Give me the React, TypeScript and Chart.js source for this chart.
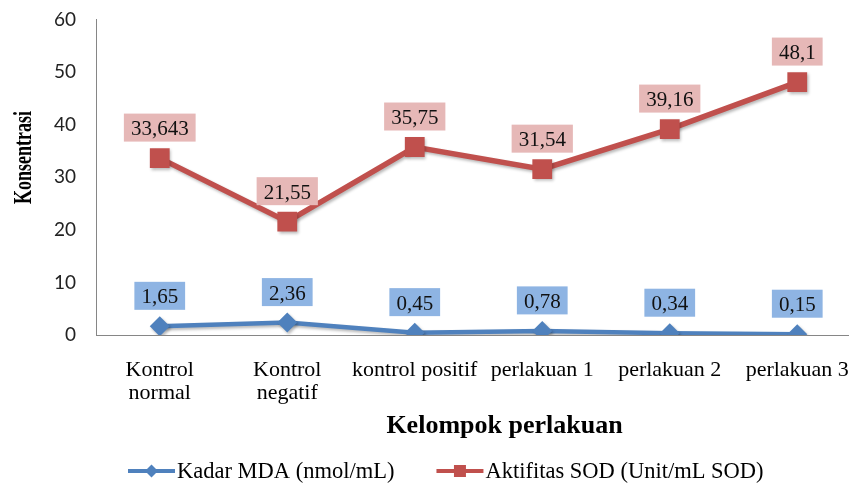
import React, { useEffect, useRef } from "react";
import { Chart, registerables } from "chart.js";

Chart.register(...registerables);

const categories: (string | string[])[] = [
  ["Kontrol", "normal"],
  ["Kontrol", "negatif"],
  "kontrol positif",
  "perlakuan 1",
  "perlakuan 2",
  "perlakuan 3",
];
const mdaValues = [1.65, 2.36, 0.45, 0.78, 0.34, 0.15];
const sodValues = [33.643, 21.55, 35.75, 31.54, 39.16, 48.1];
const yMin = 0;
const yMax = 60;
const yStep = 10;
const seriesNames = ["Kadar MDA (nmol/mL)", "Aktifitas SOD (Unit/mL SOD)"];
const yTitle = "Konsentrasi";
const xTitle = "Kelompok perlakuan";

const BLUE = "#4F81BD";
const RED = "#C0504D";
const BLUE_BOX = "#8EB4E3";
const RED_BOX = "#E6B8B7";
const SERIF = '"Liberation Serif", "Times New Roman", serif';

const boxColors = [BLUE_BOX, RED_BOX];

const CANVAS_W = 875;
const CANVAS_H = 484;

const shadowPlugin = {
  id: "shadowPlugin",
  beforeDatasetsDraw(chart: any) {
    const ctx = chart.ctx;
    ctx.save();
    ctx.shadowColor = "rgba(0,0,0,0.28)";
    ctx.shadowBlur = 3;
    ctx.shadowOffsetX = 1.5;
    ctx.shadowOffsetY = 2;
  },
  afterDatasetsDraw(chart: any) {
    chart.ctx.restore();
  },
};

const valueLabelPlugin = {
  id: "valueLabelPlugin",
  afterDatasetsDraw(chart: any) {
    const ctx = chart.ctx;
    ctx.save();
    ctx.font = `21px ${SERIF}`;
    ctx.textAlign = "center";
    ctx.textBaseline = "alphabetic";
    chart.data.datasets.forEach((ds: any, i: number) => {
      const meta = chart.getDatasetMeta(i);
      meta.data.forEach((pt: any, j: number) => {
        const text = String(ds.data[j]).replace(".", ",");
        const w = ctx.measureText(text).width + 14;
        const h = 28;
        const cy = pt.y - 30.5;
        ctx.fillStyle = boxColors[i];
        ctx.fillRect(pt.x - w / 2, cy - h / 2, w, h);
        ctx.fillStyle = "#111";
        ctx.fillText(text, pt.x, cy + 7.5);
      });
    });
    ctx.restore();
  },
};

const titlesAndLegendPlugin = {
  id: "titlesAndLegendPlugin",
  afterDraw(chart: any) {
    const ctx = chart.ctx;
    const area = chart.chartArea;
    ctx.save();
    // y title
    ctx.fillStyle = "#000";
    ctx.font = `bold 18px ${SERIF}`;
    ctx.textAlign = "center";
    ctx.textBaseline = "middle";
    ctx.translate(24, area.top + 138);
    ctx.rotate(-Math.PI / 2);
    ctx.scale(1, 1.45);
    ctx.fillText(yTitle, 0, 0);
    ctx.restore();

    // x title
    ctx.save();
    ctx.fillStyle = "#000";
    ctx.font = `bold 26px ${SERIF}`;
    ctx.textAlign = "center";
    ctx.textBaseline = "alphabetic";
    ctx.fillText(xTitle, (area.left + area.right) / 2 + 26, area.bottom + 98);
    ctx.restore();

    // legend
    ctx.save();
    ctx.font = `22.5px ${SERIF}`;
    ctx.textBaseline = "alphabetic";
    ctx.textAlign = "left";
    const lineY = area.bottom + 136;
    let x = 128;
    chart.data.datasets.forEach((ds: any) => {
      const color = ds.borderColor;
      ctx.strokeStyle = color;
      ctx.fillStyle = color;
      ctx.lineWidth = 4;
      ctx.beginPath();
      ctx.moveTo(x, lineY);
      ctx.lineTo(x + 47, lineY);
      ctx.stroke();
      const mx = x + 23.5;
      ctx.beginPath();
      if (ds.pointStyle === "rectRot") {
        const r = 6.5;
        ctx.moveTo(mx - r, lineY);
        ctx.lineTo(mx, lineY - r);
        ctx.lineTo(mx + r, lineY);
        ctx.lineTo(mx, lineY + r);
        ctx.closePath();
      } else {
        ctx.rect(mx - 6, lineY - 6, 12, 12);
      }
      ctx.fill();
      ctx.fillStyle = "#000";
      const tx = x + 49;
      ctx.fillText(ds.label, tx, lineY + 7);
      x = tx + ctx.measureText(ds.label).width + 42;
    });
    ctx.restore();
  },
};

const zeroPadding = (s: any) => {
  s.paddingTop = 0;
  s.paddingBottom = 0;
  s.paddingLeft = 0;
  s.paddingRight = 0;
};

export default function App() {
  const canvasRef = useRef<HTMLCanvasElement | null>(null);

  useEffect(() => {
    document.body.style.margin = "0";
    document.body.style.overflow = "hidden";
    document.documentElement.style.overflow = "hidden";
    const canvas = canvasRef.current;
    if (!canvas) return;
    const chart = new Chart(canvas, {
      type: "line",
      data: {
        labels: categories as any,
        datasets: [
          {
            label: seriesNames[0],
            data: mdaValues,
            borderColor: BLUE,
            backgroundColor: BLUE,
            borderWidth: 4.5,
            pointStyle: "rectRot",
            pointRadius: 10,
            pointHoverRadius: 10,
            pointBackgroundColor: BLUE,
            pointBorderWidth: 0,
            tension: 0,
          },
          {
            label: seriesNames[1],
            data: sodValues,
            borderColor: RED,
            backgroundColor: RED,
            borderWidth: 5.5,
            pointStyle: "rect",
            pointRadius: 14,
            pointHoverRadius: 14,
            pointBackgroundColor: RED,
            pointBorderWidth: 0,
            tension: 0,
          },
        ],
      },
      options: {
        animation: false,
        responsive: false,
        events: [],
        layout: { padding: { top: 19.5, right: 5, bottom: 29, left: 0 } },
        plugins: {
          legend: { display: false },
          tooltip: { enabled: false },
          title: { display: false },
        },
        scales: {
          x: {
            type: "category",
            offset: true,
            grid: { display: false },
            border: { display: true, color: "#868686", width: 1 },
            ticks: {
              padding: 16,
              color: "#000",
              maxRotation: 0,
              autoSkip: false,
              font: { family: SERIF, size: 22, lineHeight: 1.05 },
            },
            afterFit: (s: any) => {
              s.height = 120;
              zeroPadding(s);
            },
          },
          y: {
            min: yMin,
            max: yMax,
            ticks: {
              stepSize: yStep,
              padding: 20,
              color: "#222",
              font: { family: "Lato", size: 19 },
            },
            grid: { display: false, drawTicks: false, tickLength: 0 },
            border: { display: true, color: "#868686", width: 1 },
            afterFit: (s: any) => {
              s.width = 96;
              zeroPadding(s);
            },
          },
        },
      },
      plugins: [shadowPlugin, valueLabelPlugin, titlesAndLegendPlugin],
    });
    return () => chart.destroy();
  }, []);

  return (
    <div style={{ position: "absolute", left: 0, top: 0, width: CANVAS_W, height: CANVAS_H, background: "#fff" }}>
      <canvas ref={canvasRef} width={CANVAS_W} height={CANVAS_H} style={{ display: "block" }} />
    </div>
  );
}
